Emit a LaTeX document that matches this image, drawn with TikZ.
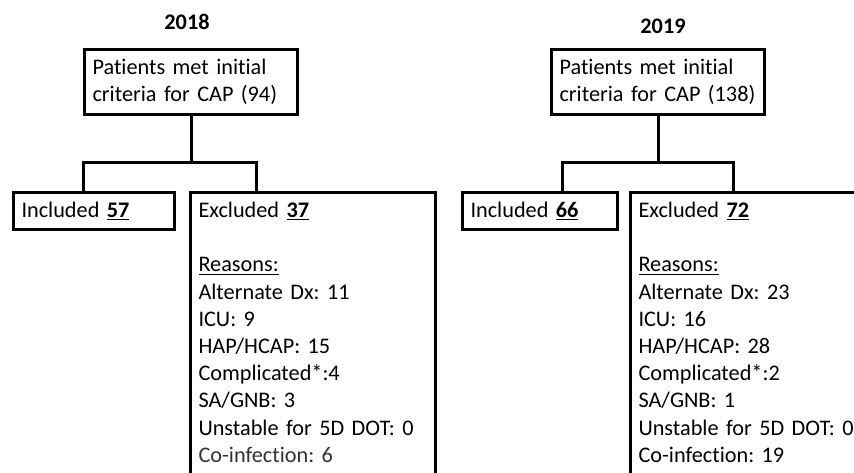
\documentclass[tikz,border=0pt]{standalone}
\usepackage{fontspec}
\setmainfont{Carlito}[RawFeature={-liga;-clig;-calt;-dlig;-rlig}]
\usetikzlibrary{positioning,calc}
\frenchspacing
\tikzset{
 box/.style={draw=black,line width=0.9mm,align=left,anchor=north west,
   font=\fontsize{19}{23.2}\selectfont,inner xsep=2.4mm,inner ysep=0pt},
 start/.style={box,text width=59.1mm,minimum height=19.5mm},
 kept/.style={box,minimum height=11.1mm},
 dropped/.style={box,inner ysep=2.9mm,text depth=100mm},
 yeartag/.style={font=\fontsize{19}{23}\selectfont\bfseries},
 link/.style={line width=0.9mm,draw=black}
}
\begin{document}
\begin{tikzpicture}[x=0.3mm,y=-0.3mm]
\clip (0,0) rectangle (854,473);
% 2018
\node[yeartag] (t18) at (187,22) {2018};
\node[start] (p18) at (83,48) {Patients met initial\\criteria for CAP (94)};
\node[kept,text width=43.5mm] (inc18) at (12,191) {Included \underline{\textbf{57}}};
\node[dropped,text width=68.7mm] (exc18) at (189,191) {Excluded \underline{\textbf{37}}\\[\baselineskip]
 \underline{Reasons:}\\Alternate Dx: 11\\ICU: 9\\HAP/HCAP: 15\\Complicated*:4\\SA/GNB: 3\\
 Unstable for 5D DOT: 0\\{\color{black!80}Co-infection: 6}};
\coordinate (l18) at (83,163);\coordinate (r18) at (256,163);
\draw[link] (p18.south) -- (p18.south |- l18);
\draw[link] (inc18.north -| l18) |- (r18) -- (exc18.north -| r18);
% 2019
\node[yeartag] (t19) at (663,26) {2019};
\node[start] (p19) at (550,48) {Patients met initial\\criteria for CAP (138)};
\node[kept,text width=41.7mm] (inc19) at (461,191) {Included \underline{\textbf{66}}};
\node[dropped,text width=80mm] (exc19) at (629,191) {Excluded \underline{\textbf{72}}\\[\baselineskip]
 \underline{Reasons:}\\Alternate Dx: 23\\ICU: 16\\HAP/HCAP: 28\\Complicated*:2\\SA/GNB: 1\\
 Unstable for 5D DOT: 0\\Co-infection: 19};
\coordinate (l19) at (562,163);\coordinate (r19) at (733,163);
\draw[link] (p19.south) -- (p19.south |- l19);
\draw[link] (inc19.north -| l19) |- (r19) -- (exc19.north -| r19);
\end{tikzpicture}
\end{document}
